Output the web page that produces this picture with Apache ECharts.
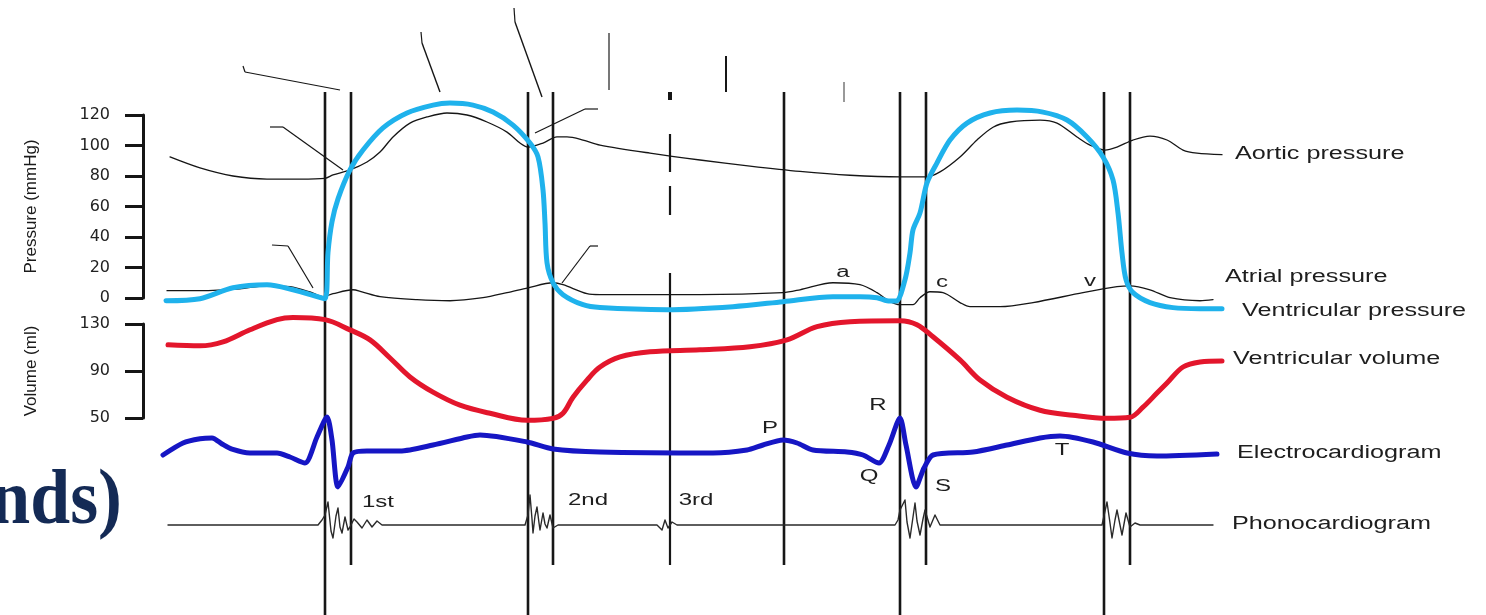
<!DOCTYPE html>
<html>
<head>
<meta charset="utf-8">
<script src="https://cdn.jsdelivr.net/npm/echarts@6/dist/echarts.min.js"></script>
<style>
  html, body { margin: 0; padding: 0; background: #ffffff; }
  #chart { width: 1486px; height: 615px; }
</style>
</head>
<body>
<div id="chart"></div>
<script>
// Wiggers diagram: pressures, ventricular volume, ECG and heart sounds over ~2 cardiac cycles.
// Time axis t in ms (shared by every panel).

// ---- pressures (mmHg) ----
const aorticPressure = [
  [10,92.5],[40,85.3],[73,80],[107,78],[140,78],[165,78.5],[173,80.7],[190,84],[207,89.2],
  [220,95.7],[233,105.6],[250,114.7],[267,118.7],[287,121.3],[307,120],[327,115.4],[347,108.8],
  [360,101.6],[368,99],[383,101.6],[397,105.6],[407,105.6],[423,103.6],[440,100.3],[490,95],
  [540,90.5],[590,86.5],[640,83],[690,80.5],[740,79.4],[766,79.4],[780,82.7],[800,92.5],
  [817,103.6],[833,112],[850,115.4],[880,116.7],[897,114.7],[917,105.6],[930,100.3],[945,97],
  [957,99],[973,103.6],[990,106.2],[1007,103.6],[1023,97],[1037,95],[1062,94]
];
const atrialPressure = [
  [7,4.8],[40,4.8],[80,6],[105,8],[130,7.4],[150,4],[163,0.9],[173,2.8],[193,5.4],[202,4],
  [220,0.9],[257,-1.1],[290,-1.8],[323,0.2],[347,3.5],[368,6.7],[393,10],[403,8.7],[427,2.8],
  [440,2.2],[540,2.2],[623,3.5],[640,5.4],[673,10],[700,8.7],[717,3.5],[730,-2.4],[740,-4.4],
  [753,-4.4],[760,0.2],[770,4.1],[783,3.5],[800,-3],[810,-5.7],[840,-5.7],[873,-3],[923,3.5],
  [957,7.4],[970,8],[990,5.4],[1010,0.2],[1040,-1.8],[1053,-1.1]
];
const ventricularPressure = [
  [6,-1.8],[40,-0.5],[73,6.7],[107,8.7],[133,5.4],[165,-0.5],[168,30],[172,50],[178,65],
  [190,84],[203,97],[223,111.5],[247,121.3],[273,126.5],[290,127.8],[313,126.5],[333,121.9],
  [353,113.4],[370,101.6],[378,92.5],[383,70.9],[385,49.3],[387,23.1],[393,10],[403,2.2],
  [423,-4.4],[440,-6.3],[507,-7.7],[573,-5.7],[623,-2.4],[673,0.9],[700,0.9],[717,0.2],
  [727,-1.8],[736,-2],[745,12],[750,29.6],[753,44.7],[760,55.8],[767,75.5],[777,88.6],
  [790,103.6],[807,114.7],[830,121.3],[857,123.2],[883,121.9],[907,116.7],[927,105.6],
  [943,92.5],[953,77.4],[958,55.8],[962,29.6],[966,12],[973,3.5],[990,-3],[1013,-6.3],
  [1040,-7],[1062,-7]
];

// ---- ventricular volume (ml) ----
const ventricularVolume = [
  [8,112.3],[40,111.4],[63,114.8],[90,125.1],[117,133.7],[133,135.5],[165,133.7],[190,125],
  [210,116.5],[230,101.1],[250,84.9],[273,72],[300,60.9],[330,54],[367,48],[393,49.7],
  [403,54],[413,67.7],[427,82.3],[440,93.4],[460,102],[490,106.3],[540,108],[590,110.6],
  [627,116.5],[657,127.7],[690,132],[740,132.8],[757,129.4],[773,119.1],[800,99.4],
  [820,82.3],[847,67.7],[880,56.6],[913,52.3],[947,49.7],[970,50.6],[983,59.2],[997,71.2],
  [1007,79.7],[1023,93.4],[1040,97.7],[1062,98.6]
];

// ---- electrocardiogram (mV) ----
const ecg = [
  [3,-0.075],[23,0.225],[40,0.33],[52,0.35],[62,0.2],[72,0.07],[90,-0.025],[117,-0.025],[130,-0.125],
  [145,-0.275],[157,0.375],[167,0.875],[172,0.3],[178,-0.875],[188,-0.375],[193,-0.025],
  [207,0.025],[240,0.025],[273,0.175],[307,0.375],[320,0.425],[367,0.25],[393,0.075],[440,0],
  [553,-0.025],[587,0.05],[603,0.175],[623,0.3],[637,0.225],[653,0.05],[687,0],[703,-0.075],
  [719,-0.275],[729,0.175],[740,0.85],[746,0.175],[756,-0.875],[764,-0.4],[773,-0.075],
  [813,0],[847,0.175],[880,0.35],[900,0.4],[933,0.25],[967,-0.025],[997,-0.1],[1057,-0.05]
];

// ---- phonocardiogram (relative amplitude) ----
const phono = [
  [8,0],[158,0],[162,0.5],[165,1],[168,2.3],[171,-0.6],[173,-1.3],[176,0.9],[178,1.7],[180,-0.2],
  [182,-0.8],[185,0.8],[188,-0.5],[190,-0.2],[194,0.6],[197,0.3],[202,-0.3],[207,0.5],[212,-0.2],
  [217,0.4],[222,0],[365,0],[368,1],[370,3],[372,0.6],[373,-0.8],[375,0.9],[377,1.8],[379,0.2],
  [380,-0.5],[383,1.2],[385,0.1],[387,-0.3],[390,1],[393,-0.3],[398,0],[497,0],[502,-0.5],
  [505,0.5],[508,-0.3],[512,0.3],[517,0],[735,0],[738,0.5],[740,1.5],[745,2.5],[747,0.3],
  [750,-1.3],[753,0.8],[755,2.2],[757,0.4],[760,-1],[763,0.6],[765,1.5],[770,-0.2],[775,1],
  [780,0],[787,0],[942,0],[947,2.3],[950,0.2],[952,-1.3],[955,0.5],[957,1.5],[960,0],[962,-1],
  [966,1.2],[970,-0.2],[975,0.2],[980,0],[1053,0]
];

// ---- axis ticks ----
const pressureTicks = [0, 20, 40, 60, 80, 100, 120];
const volumeTicks = [50, 90, 130];

// ---- timing markers (valve events), t in ms ----
const eventTimes = [165, 191, 368, 393, 624, 740, 766, 944, 970];
const eventFullDepth = [true, false, true, false, false, true, false, true, false];

// ---- trace names ----
const traceNames = ['Aortic pressure', 'Atrial pressure', 'Ventricular pressure',
  'Ventricular volume', 'Electrocardiogram', 'Phonocardiogram'];
const waveLetters = ['a', 'c', 'v', 'P', 'Q', 'R', 'S', 'T'];
const soundNames = ['1st', '2nd', '3rd'];

// ---------------------------------------------------------------
const T_MIN = -17;          // a little room left of the traces for the value axes
const T_MAX = 1100;
const PLOT_LEFT = 143;
const INK = '#161616';

// overlay frame: vertical scale in screen rows so guide lines span panels
const overlayRows = 615;
const eventTop = 92, eventBottomFull = 615, eventBottomShort = 565;
const dashedGuide = { t: 510, runs: [[92, 100, 4], [134, 172, 2.2], [186, 215, 2.2], [273, 565, 2.2]] };
const leaderLines = [
  // [t1, row1, t2, row2, colour, width]
  [83, 66, 85, 72, INK, 1.2], [85, 72, 180, 90, INK, 1.2],
  [261, 32, 262, 43, INK, 1.2], [262, 43, 280, 92, INK, 1.4],
  [354, 8, 355, 22, INK, 1.2], [355, 22, 382, 97, INK, 1.4],
  [449, 33, 449, 90, '#777', 2], [566, 56, 566, 92, INK, 2], [684, 82, 684, 102, '#999', 2],
  [110, 127, 123, 127, INK, 1.2], [123, 127, 183, 170, INK, 1.2],
  [112, 245, 128, 246, INK, 1.2], [128, 246, 153, 288, INK, 1.2],
  [438, 109, 425, 109, INK, 1.2], [425, 109, 375, 133, INK, 1.2],
  [438, 246, 430, 246, INK, 1.2], [430, 246, 402, 283, INK, 1.2]
];

const guideSegments = [];
eventTimes.forEach((t, i) => {
  guideSegments.push([t, eventTop, t, eventFullDepth[i] ? eventBottomFull : eventBottomShort, INK, 2.6]);
});
dashedGuide.runs.forEach(r => guideSegments.push([dashedGuide.t, r[0], dashedGuide.t, r[1], INK, r[2]]));
leaderLines.forEach(l => guideSegments.push(l));

function grid(top, height) {
  return { left: PLOT_LEFT, width: T_MAX - T_MIN, top: top, height: height, outerBoundsMode: 'none', containLabel: false };
}
function hiddenX(gridIndex) {
  return { type: 'value', gridIndex: gridIndex, min: T_MIN, max: T_MAX, show: false };
}
function tickAxis(gridIndex, ticks, name, nameGap) {
  return {
    type: 'value', gridIndex: gridIndex, position: 'left',
    min: ticks[0], max: ticks[ticks.length - 1], interval: ticks[1] - ticks[0],
    name: name, nameLocation: 'middle', nameRotate: 90, nameGap: nameGap,
    nameTextStyle: { fontFamily: '"Liberation Sans", Arial, sans-serif', fontSize: 17, color: '#1a1a1a' },
    axisLine: { show: true, onZero: false, lineStyle: { color: INK, width: 3 } },
    axisTick: { show: true, inside: false, length: 18, lineStyle: { color: INK, width: 3 } },
    axisLabel: { margin: 33, fontFamily: '"DejaVu Sans", sans-serif', fontSize: 16, color: '#222' },
    splitLine: { show: false }
  };
}
function trace(data, xi, yi, color, width, smooth, z) {
  return {
    type: 'line', data: data, xAxisIndex: xi, yAxisIndex: yi, smooth: smooth,
    showSymbol: false, symbol: 'none', clip: false, z: z, silent: true,
    lineStyle: { color: color, width: width, cap: 'round', join: 'round' }
  };
}

const chart = echarts.init(document.getElementById('chart'), null, { renderer: 'canvas' });

const labelFont = '18px "Liberation Sans", Arial, sans-serif';
const smallFont = '16px "Liberation Sans", Arial, sans-serif';
const traceLabelPos = [[1235, 154], [1225, 277], [1242, 311], [1233, 359], [1237, 453], [1232, 524]];
const letterPos = [[843, 273], [942, 283], [1090, 282], [770, 429], [869, 477], [878, 406], [943, 487], [1062, 451]];
const soundPos = [[378, 503], [588, 501], [696, 501]];

function txt(text, x, y, font, align, sx, fill) {
  return {
    type: 'text', x: x, y: y, scaleX: sx, scaleY: 1, silent: true, z: 50,
    style: { text: text, font: font, fill: fill || '#1e1e1e',
      textAlign: align, align: align, textVerticalAlign: 'middle', verticalAlign: 'middle' }
  };
}
const graphics = [];
traceNames.forEach((n, i) => graphics.push(txt(n, traceLabelPos[i][0], traceLabelPos[i][1], labelFont, 'left', 1.4)));
waveLetters.forEach((n, i) => graphics.push(txt(n, letterPos[i][0], letterPos[i][1], smallFont, 'center', 1.5)));
soundNames.forEach((n, i) => graphics.push(txt(n, soundPos[i][0], soundPos[i][1], smallFont, 'center', 1.5)));
// tail of the slide heading
graphics.push({
  type: 'text', x: 122, y: 503, scaleX: 0.92, silent: true, z: 50,
  style: { text: 'nds)', font: 'bold 78px "Liberation Serif", "DejaVu Serif", serif', fill: '#142a55',
    textAlign: 'right', align: 'right', textVerticalAlign: 'middle', verticalAlign: 'middle' }
});

const option = {
  animation: false,
  backgroundColor: '#ffffff',
  grid: [grid(115, 183), grid(324, 94), grid(402, 100), grid(490, 70), grid(0, overlayRows)],
  xAxis: [hiddenX(0), hiddenX(1), hiddenX(2), hiddenX(3), hiddenX(4)],
  yAxis: [
    tickAxis(0, pressureTicks, 'Pressure (mmHg)', 103),
    tickAxis(1, volumeTicks, 'Volume (ml)', 103),
    { type: 'value', gridIndex: 2, min: -1.25, max: 1.25, show: false },
    { type: 'value', gridIndex: 3, min: -3.5, max: 3.5, show: false },
    { type: 'value', gridIndex: 4, min: 0, max: overlayRows, inverse: true, show: false }
  ],
  series: [
    {
      type: 'custom', xAxisIndex: 4, yAxisIndex: 4, z: 1, silent: true, clip: false,
      data: guideSegments.map(s => [s[0], s[1], s[2], s[3]]),
      encode: { x: [0, 2], y: [1, 3] },
      renderItem: function (params, api) {
        const s = guideSegments[params.dataIndex];
        const p1 = api.coord([api.value(0), api.value(1)]);
        const p2 = api.coord([api.value(2), api.value(3)]);
        return { type: 'line', shape: { x1: p1[0], y1: p1[1], x2: p2[0], y2: p2[1] },
          style: { stroke: s[4], lineWidth: s[5], fill: null } };
      }
    },
    trace(aorticPressure, 0, 0, INK, 1.3, 0.3, 3),
    trace(atrialPressure, 0, 0, INK, 1.3, 0.3, 3),
    trace(ventricularPressure, 0, 0, '#1fb2ec', 5, 0.3, 4),
    trace(ventricularVolume, 1, 1, '#e3162c', 5, 0.35, 4),
    trace(ecg, 2, 2, '#1616c4', 5, 0.25, 4),
    trace(phono, 3, 3, '#2a2a2a', 1.4, false, 3)
  ],
  graphic: graphics
};
chart.setOption(option);
</script>
</body>
</html>
